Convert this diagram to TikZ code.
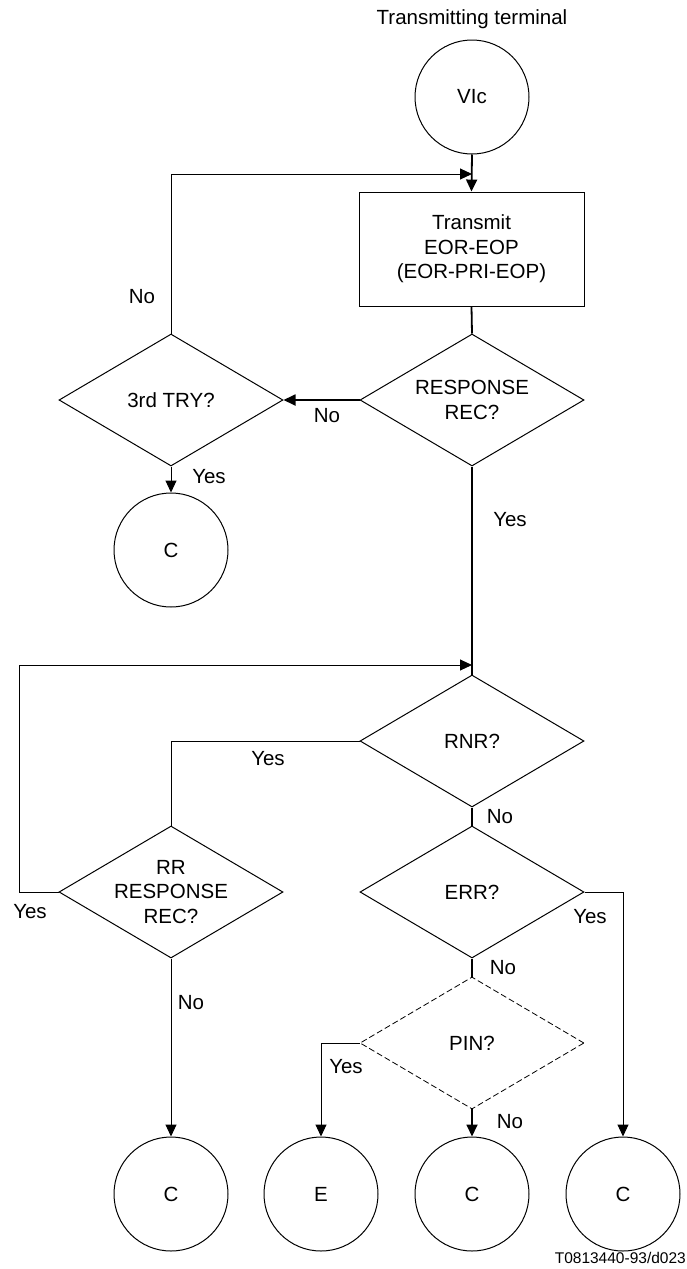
\documentclass[tikz,border=0pt]{standalone}
\usepackage{fontspec}
\setmainfont{Liberation Sans}
\usetikzlibrary{shapes.geometric,arrows.meta}
\begin{document}
\begin{tikzpicture}[x=1pt,y=-1pt,
  every node/.style={font=\fontsize{20.5}{24.5}\selectfont},
  dia/.style={draw,shape=diamond,aspect=1.7,minimum width=224pt,minimum height=132pt,inner sep=-4pt,align=center,line width=1pt},
  term/.style={draw,circle,minimum size=114pt,inner sep=0pt,line width=1pt},
  proc/.style={draw,rectangle,minimum width=225pt,minimum height=114pt,align=center,line width=0.9pt},
  lbl/.style={inner sep=0pt},
  flow/.style={line width=1pt},
  trunk/.style={line width=1.8pt},
  arr/.style={-{Triangle[length=12pt,width=11pt]}}
]
\useasboundingbox (0,0) rectangle (687,1269);

% title
\node[lbl] (title) at (472,19) {Transmitting terminal};

% nodes
\node[term] (vic) at (472,97) {VIc};
\node[proc] (tx) at (471.5,249) {Transmit\\EOR-EOP\\(EOR-PRI-EOP)};
\node[dia] (resp) at (472,400) {RESPONSE\\REC?};
\node[dia] (try) at (171,400) {3rd TRY?};
\node[term] (cl) at (171,550) {C};
\node[dia] (rnr) at (472,741) {RNR?};
\node[dia] (rr) at (171,892) {RR\\RESPONSE\\REC?};
\node[dia] (err) at (472,892) {ERR?};
\node[dia,dashed,dash pattern=on 6pt off 3pt,line width=0.8pt] (pin) at (472,1043) {PIN?};
\node[term] (c1) at (171,1194) {C};
\node[term] (e) at (321,1194) {E};
\node[term] (c2) at (472,1194) {C};
\node[term] (c3) at (623,1194) {C};

\coordinate (j1) at (472,174);
\coordinate (j2) at (472,665);

% connectors
\draw[trunk,arr] (vic.south) -- (tx.north);
\draw[flow,arr] (try.north) |- (j1);
\draw[trunk] (tx.south) -- (resp.north);
\draw[trunk,arr] (resp.west) -- (try.east);
\draw[flow,arr] (try.south) -- (cl.north);
\draw[trunk] (resp.south) -- (rnr.north);
\draw[flow,arr] (rr.west) -- ++(-39,0) |- (j2);
\draw[flow] (rnr.west) -| (rr.north);
\draw[trunk] (rnr.south) -- (err.north);
\draw[flow,arr] (err.east) -| (c3.north);
\draw[trunk] (err.south) -- (pin.north);
\draw[flow,arr] (pin.west) -| (e.north);
\draw[trunk,arr] (pin.south) -- (c2.north);
\draw[flow,arr] (rr.south) -- (c1.north);

% labels
\node[lbl] (l1) at (142,297) {No};
\node[lbl] (l2) at (327,416) {No};
\node[lbl] (l3) at (209,477) {Yes};
\node[lbl] (l4) at (510,520) {Yes};
\node[lbl] (l5) at (268,759) {Yes};
\node[lbl] (l6) at (500,817) {No};
\node[lbl] (l7) at (30,912) {Yes};
\node[lbl] (l8) at (590,917) {Yes};
\node[lbl] (l9) at (503,968) {No};
\node[lbl] (l10) at (191,1003) {No};
\node[lbl] (l11) at (346,1067) {Yes};
\node[lbl] (l12) at (510,1122) {No};

\node[lbl,anchor=east,font=\fontsize{15.5}{18}\selectfont] (fig) at (686,1258) {T0813440-93/d023};
\end{tikzpicture}
\end{document}
